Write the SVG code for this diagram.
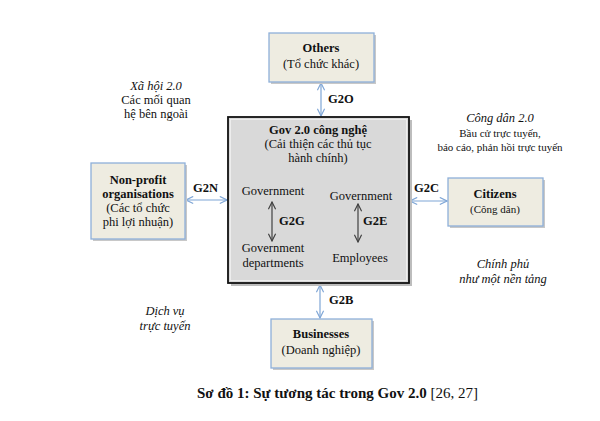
<svg xmlns="http://www.w3.org/2000/svg" width="600" height="421" viewBox="0 0 600 421" font-family="'Liberation Serif','Times New Roman',serif">
<defs>
<style>
text{font-family:"Liberation Serif","Times New Roman",serif;font-size:12.5px;fill:#111}
.b{font-weight:bold}
.i{font-style:italic}
.s{font-size:11px}
.c{text-anchor:middle}
.box{fill:#eeece1;stroke:#8eb0d9;stroke-width:1.3}
.sh{fill:#c8c8c8}
.con{stroke:#7fa6d6;stroke-width:1.2;fill:none}
.inn{stroke:#404040;stroke-width:1.2;fill:none}
</style>
<marker id="ab" viewBox="0 0 10 10" refX="9" refY="5" markerWidth="9" markerHeight="9" markerUnits="userSpaceOnUse" orient="auto-start-reverse">
<path d="M1,1 L9,5 L1,9" fill="none" stroke="#7fa6d6" stroke-width="1.3"/>
</marker>
<marker id="ak" viewBox="0 0 10 10" refX="9" refY="5" markerWidth="9" markerHeight="9" markerUnits="userSpaceOnUse" orient="auto-start-reverse">
<path d="M1,1 L9,5 L1,9" fill="none" stroke="#404040" stroke-width="1.3"/>
</marker>
</defs>
<rect width="600" height="421" fill="#ffffff"/>

<g id="connectors">
<line class="con" x1="321" y1="83" x2="321" y2="116" marker-start="url(#ab)" marker-end="url(#ab)"/>
<line class="con" x1="186" y1="200" x2="227" y2="200" marker-start="url(#ab)" marker-end="url(#ab)"/>
<line class="con" x1="410" y1="201" x2="447" y2="201" marker-start="url(#ab)" marker-end="url(#ab)"/>
<line class="con" x1="320" y1="285" x2="320" y2="318" marker-start="url(#ab)" marker-end="url(#ab)"/>
<text class="b" x="328" y="103">G2O</text>
<text class="b" x="193" y="192">G2N</text>
<text class="b" x="414" y="192">G2C</text>
<text class="b" x="329" y="304">G2B</text>
</g>

<g id="others">
<rect class="sh" x="271" y="35" width="105" height="49"/>
<rect class="box" x="269" y="33" width="105" height="49"/>
<text class="b c" x="321" y="52">Others</text>
<text class="c" x="321" y="68">(Tổ chức khác)</text>
</g>

<g id="gov">
<rect x="231" y="120" width="181" height="166" fill="#bdbdbd"/>
<rect x="228" y="117" width="181" height="166" fill="#d9d9d9" stroke="#111" stroke-width="1.8"/>
<rect x="230.5" y="119.5" width="176" height="161" fill="none" stroke="#f2f2f2" stroke-width="0.8"/>
<text class="b c" x="318" y="134">Gov 2.0 công nghệ</text>
<text class="c" x="318" y="148">(Cải thiện các thủ tục</text>
<text class="c" x="318" y="162">hành chính)</text>
<text class="c" x="273" y="195">Government</text>
<line class="inn" x1="272" y1="202" x2="272" y2="241" marker-start="url(#ak)" marker-end="url(#ak)"/>
<text class="b" x="279" y="225">G2G</text>
<text class="c" x="273" y="252">Government</text>
<text class="c" x="273" y="267">departments</text>
<text class="c" x="361" y="200">Government</text>
<line class="inn" x1="358" y1="204" x2="358" y2="242" marker-start="url(#ak)" marker-end="url(#ak)"/>
<text class="b" x="363" y="225">G2E</text>
<text class="c" x="360" y="262">Employees</text>
</g>

<g id="nonprofit">
<rect class="sh" x="93" y="165" width="94" height="76"/>
<rect class="box" x="91" y="163" width="94" height="76"/>
<text class="b c" x="138" y="184">Non-profit</text>
<text class="b c" x="138" y="198">organisations</text>
<text class="c" x="138" y="212">(Các tổ chức</text>
<text class="c" x="138" y="226">phi lợi nhuận)</text>
</g>

<g id="citizens">
<rect class="sh" x="450" y="180" width="95" height="48"/>
<rect class="box" x="448" y="178" width="95" height="48"/>
<text class="b c" x="495" y="198">Citizens</text>
<text class="c s" x="495" y="213">(Công dân)</text>
</g>

<g id="businesses">
<rect class="sh" x="273" y="321" width="101" height="49"/>
<rect class="box" x="271" y="319" width="101" height="49"/>
<text class="b c" x="321" y="338">Businesses</text>
<text class="c" x="321" y="354">(Doanh nghiệp)</text>
</g>

<g id="notes">
<text class="i c" x="156" y="90">Xã hội 2.0</text>
<text class="c" x="156" y="104">Các mối quan</text>
<text class="c" x="156" y="118">hệ bên ngoài</text>
<text class="i c" x="500" y="122">Công dân 2.0</text>
<text class="c s" x="500" y="137">Bầu cử trực tuyến,</text>
<text class="c s" x="500" y="151">báo cáo, phản hồi trực tuyến</text>
<text class="i c" x="503" y="268">Chính phủ</text>
<text class="i c" x="503" y="283">như một nền tảng</text>
<text class="i c" x="165" y="315">Dịch vụ</text>
<text class="i c" x="165" y="330">trực tuyến</text>
</g>

<g id="caption">
<text x="197" y="398" style="font-size:15px"><tspan class="b">Sơ đồ 1: Sự tương tác trong Gov 2.0</tspan> [26, 27]</text>
</g>
</svg>
